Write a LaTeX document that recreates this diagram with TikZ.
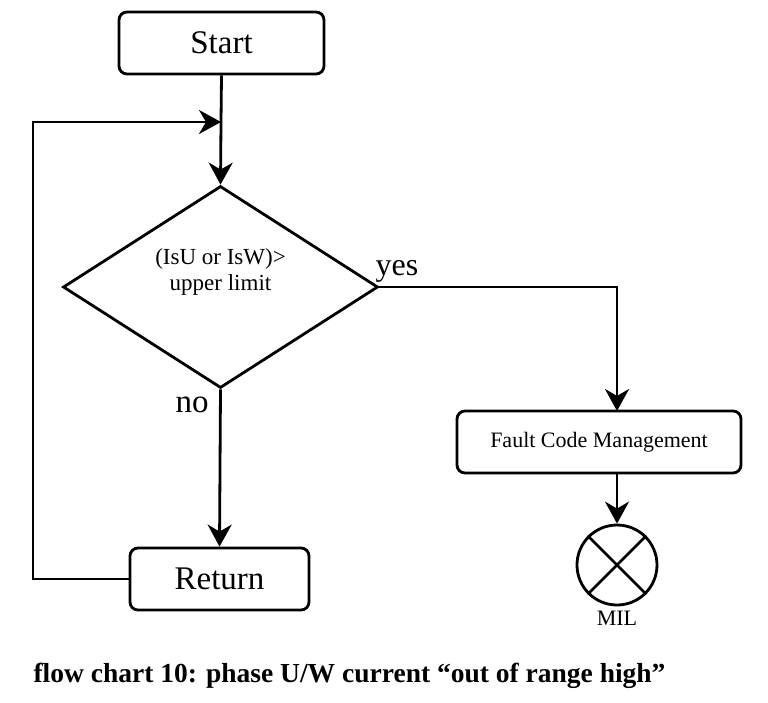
\documentclass[tikz,border=0pt]{standalone}
\usepackage{fontspec}
\setmainfont{Liberation Serif}
\usetikzlibrary{positioning, arrows.meta, shapes.geometric}

\tikzset{
  flowbox/.style={draw, line width=2.8pt, rounded corners=8pt, minimum height=62pt},
  flowline/.style={line width=2.8pt},
  flowarrow/.style={line width=2.8pt, -{Stealth[length=22pt, width=24pt, inset=7pt]}}
}

\begin{document}
\begin{tikzpicture}[x=1pt, y=-1pt]

\useasboundingbox (0,0) rectangle (768,702);

% Draw the boxes
\node[flowbox, minimum width=205pt, font=\fontsize{33}{36}\selectfont] (start) at (221.5, 43) {Start};
\node[draw, diamond, line width=2.8pt, minimum width=315pt, minimum height=202pt, inner sep=0pt] (dec) at (220.5, 287) {};
\node[align=center, font=\fontsize{23}{26}\selectfont] (dectext) at (220.5, 272) {(IsU or IsW)>\\upper limit};
\node[flowbox, minimum width=179pt, font=\fontsize{33}{36}\selectfont] (ret) at (219.5, 579) {Return};
\node[flowbox, minimum width=284pt, font=\fontsize{22}{25}\selectfont] (fcm) at (599, 442) {Fault Code Management};

% Draw the lamp
\node[draw, circle, line width=2.8pt, minimum size=80pt, inner sep=0pt] (mil) at (617, 565) {};
\draw[flowline] (mil.north west) -- (mil.south east);
\draw[flowline] (mil.north east) -- (mil.south west);
\node[font=\fontsize{22}{25}\selectfont] (miltext) at (617, 618) {MIL};

% Draw the connectors
\coordinate (join) at (221, 122);
\coordinate (fcmtop) at (617, 411);
\draw[flowline] (start.south) -- (join);
\draw[flowarrow] (join) -- (dec.north);
\draw[flowarrow] (dec.south) -- (ret.north);
\draw[flowarrow] (dec.east) -| (fcmtop);
\draw[flowarrow] (fcmtop |- fcm.south) -- (mil.north);
\draw[flowarrow] (ret.west) -- (33, 579) |- (join);

% Add the branch labels
\node[font=\fontsize{32}{35}\selectfont] (yes) at (397, 271) {yes};
\node[font=\fontsize{33}{36}\selectfont] (no) at (192, 405) {no};

% Add the caption
\node[anchor=west, font=\fontsize{27.5}{30}\selectfont\bfseries] (caption) at (30, 676)
  {flow chart 10: phase U/W current “out of range high”};

\end{tikzpicture}
\end{document}
